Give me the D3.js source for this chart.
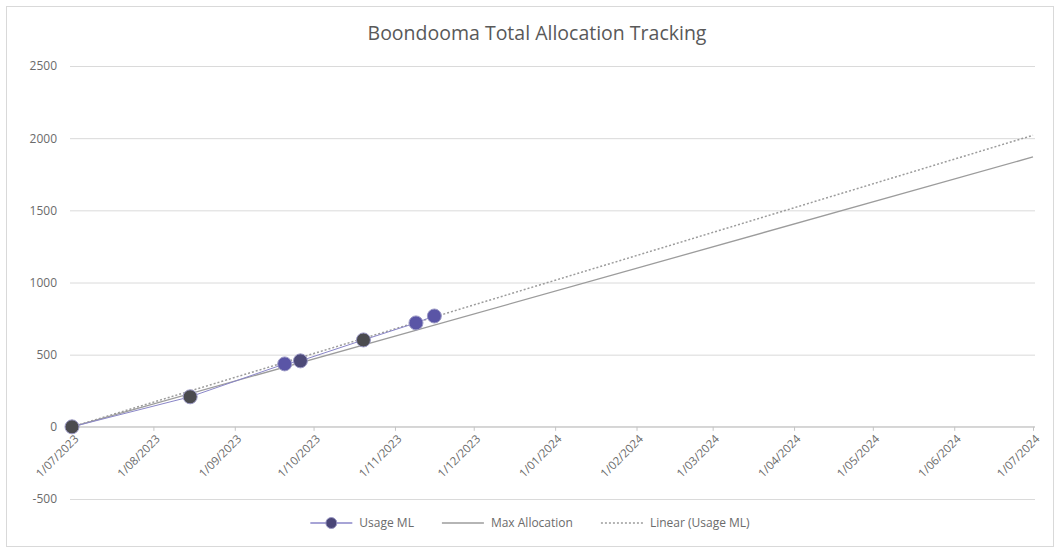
<!DOCTYPE html>
<html>
<head>
<meta charset="utf-8">
<script src="https://cdn.jsdelivr.net/npm/d3@7"></script>
<style>
    body { margin: 0; background: #fff; }
    svg { display: block; }
</style>
</head>
<body>
<script>
// chart data
const usage_dates = ['2023-07-01', '2023-08-15', '2023-09-20', '2023-09-26', '2023-10-20', '2023-11-09', '2023-11-16']
const usage_ml = [0, 208, 436, 457, 602, 720, 768]
const max_allocation_dates = ['2023-07-01', '2024-07-01']
const max_allocation_ml = [0, 1870]
const trend_dates = ['2023-07-01', '2024-07-01']
const trend_ml = [0, 2020]
const x_tick_dates = ['2023-07-01', '2023-08-01', '2023-09-01', '2023-10-01', '2023-11-01', '2023-12-01',
                      '2024-01-01', '2024-02-01', '2024-03-01', '2024-04-01', '2024-05-01', '2024-06-01', '2024-07-01']
const y_ticks = [-500, 0, 500, 1000, 1500, 2000, 2500]
const series_names = ['Usage ML', 'Max Allocation', 'Linear (Usage ML)']
const chart_title = 'Boondooma Total Allocation Tracking'

// global objects
const svg_dimensions = [0, 0, 1060, 553]
const plot = {'left': 72, 'right': 1033, 'top': 66, 'bottom': 499}
const marker_colors = ['#4b4b4f', '#4b4b4f', '#5a55a6', '#4d4a78', '#4b4b4f', '#5a55a6', '#5a55a6']
const text_color = '#6b6b6b'
const font = "'Open Sans', 'Noto Sans', sans-serif"
const parse_date = d3.timeParse('%Y-%m-%d')
const format_date = d3.timeFormat('%-d/%m/%Y')

function to_points(dates, values) {
    return dates.map((d, i) => ({'date': parse_date(d), 'value': values[i]}))
}

function draw_chart() {
    const [x0, y0, w, h] = svg_dimensions
    const svg = d3.select('body').append('svg')
        .attr('width', w)
        .attr('height', h)

    // chart border
    svg.append('rect')
        .attr('x', 6.5).attr('y', 6.5)
        .attr('width', w - 13).attr('height', h - 13)
        .style('fill', '#fff')
        .style('stroke', '#d9d9d9')

    const x = d3.scaleTime()
        .domain([parse_date(x_tick_dates[0]), parse_date(x_tick_dates[x_tick_dates.length - 1])])
        .range([plot.left, plot.right])
    const y = d3.scaleLinear()
        .domain([y_ticks[0], y_ticks[y_ticks.length - 1]])
        .range([plot.bottom, plot.top])

    // gridlines + y labels
    const y_axis = svg.append('g')
        .attr('transform', `translate(${plot.left - 2},0)`)
        .call(d3.axisLeft(y).tickValues(y_ticks).tickSize(-(plot.right - plot.left + 4)).tickPadding(13).tickFormat(d => `${d}`))
    y_axis.select('.domain').remove()
    y_axis.selectAll('line')
        .style('stroke', '#dadada')
    y_axis.selectAll('text')
        .style('font-family', font)
        .style('font-size', '12px')
        .style('fill', text_color)

    // x axis on zero line
    const x_axis = svg.append('g')
        .attr('transform', `translate(0,${y(0)})`)
        .call(d3.axisBottom(x).tickValues(x_tick_dates.map(parse_date)).tickSize(4).tickFormat(''))
    x_axis.select('.domain')
        .attr('d', `M${plot.left - 2},0H${plot.right + 2}`)
        .style('stroke', '#c4c4c4')
    x_axis.selectAll('line').style('stroke', '#c4c4c4')
    x_axis.selectAll('.tick')
        .append('text')
        .text(d => format_date(d))
        .attr('transform', 'translate(4,10) rotate(-45)')
        .attr('text-anchor', 'end')
        .attr('dy', '0.35em')
        .style('font-family', font)
        .style('font-size', '11.5px')
        .style('fill', text_color)

    const line = d3.line().x(d => x(d.date)).y(d => y(d.value))

    // max allocation
    svg.append('path')
        .datum(to_points(max_allocation_dates, max_allocation_ml))
        .attr('d', line)
        .style('fill', 'none')
        .style('stroke', '#9c9c9c')
        .style('stroke-width', 1.3)

    // linear trend
    svg.append('path')
        .datum(to_points(trend_dates, trend_ml))
        .attr('d', line)
        .style('fill', 'none')
        .style('stroke', '#9c9c9c')
        .style('stroke-width', 1.5)
        .style('stroke-dasharray', '2,2')

    // usage ML
    const usage = to_points(usage_dates, usage_ml)
    svg.append('path')
        .datum(usage)
        .attr('d', line)
        .style('fill', 'none')
        .style('stroke', '#8a86c8')
        .style('stroke-width', 1)
    svg.selectAll('.usage-marker')
        .data(usage)
        .enter()
        .append('circle')
        .attr('class', 'usage-marker')
        .attr('cx', d => x(d.date))
        .attr('cy', d => y(d.value))
        .attr('r', 7)
        .style('fill', (_, i) => marker_colors[i])
        .style('stroke', '#9a98c4')
        .style('stroke-width', 1)

    // title
    svg.append('text')
        .text(chart_title)
        .attr('x', 537)
        .attr('y', 40)
        .attr('text-anchor', 'middle')
        .style('font-family', font)
        .style('font-size', '19.5px')
        .style('fill', '#595959')

    // legend
    const legend = svg.append('g')
    let cursor = 0
    series_names.forEach((name, i) => {
        const item = legend.append('g').attr('transform', `translate(${cursor},0)`)
        const sample = item.append('line')
            .attr('x1', 0).attr('x2', 42)
            .attr('y1', 0).attr('y2', 0)
        if (i == 0) {
            sample.style('stroke', '#8a86c8').style('stroke-width', 1.5)
            item.append('circle')
                .attr('cx', 21).attr('cy', 0).attr('r', 5.5)
                .style('fill', '#4a4678')
                .style('stroke', '#9a98c4')
        } else {
            sample.style('stroke', '#9c9c9c').style('stroke-width', 1.3)
            if (i == 2) sample.style('stroke-dasharray', '2,2').style('stroke-width', 1.5)
        }
        const label = item.append('text')
            .text(name)
            .attr('x', 49)
            .attr('dy', '0.35em')
            .style('font-family', font)
            .style('font-size', '12px')
            .style('fill', text_color)
        cursor += 49 + label.node().getComputedTextLength() + 28
    })
    legend.attr('transform', `translate(${530 - (cursor - 28) / 2},523)`)
}

function main() {
    draw_chart()
}

// main
main()
</script>
</body>
</html>
